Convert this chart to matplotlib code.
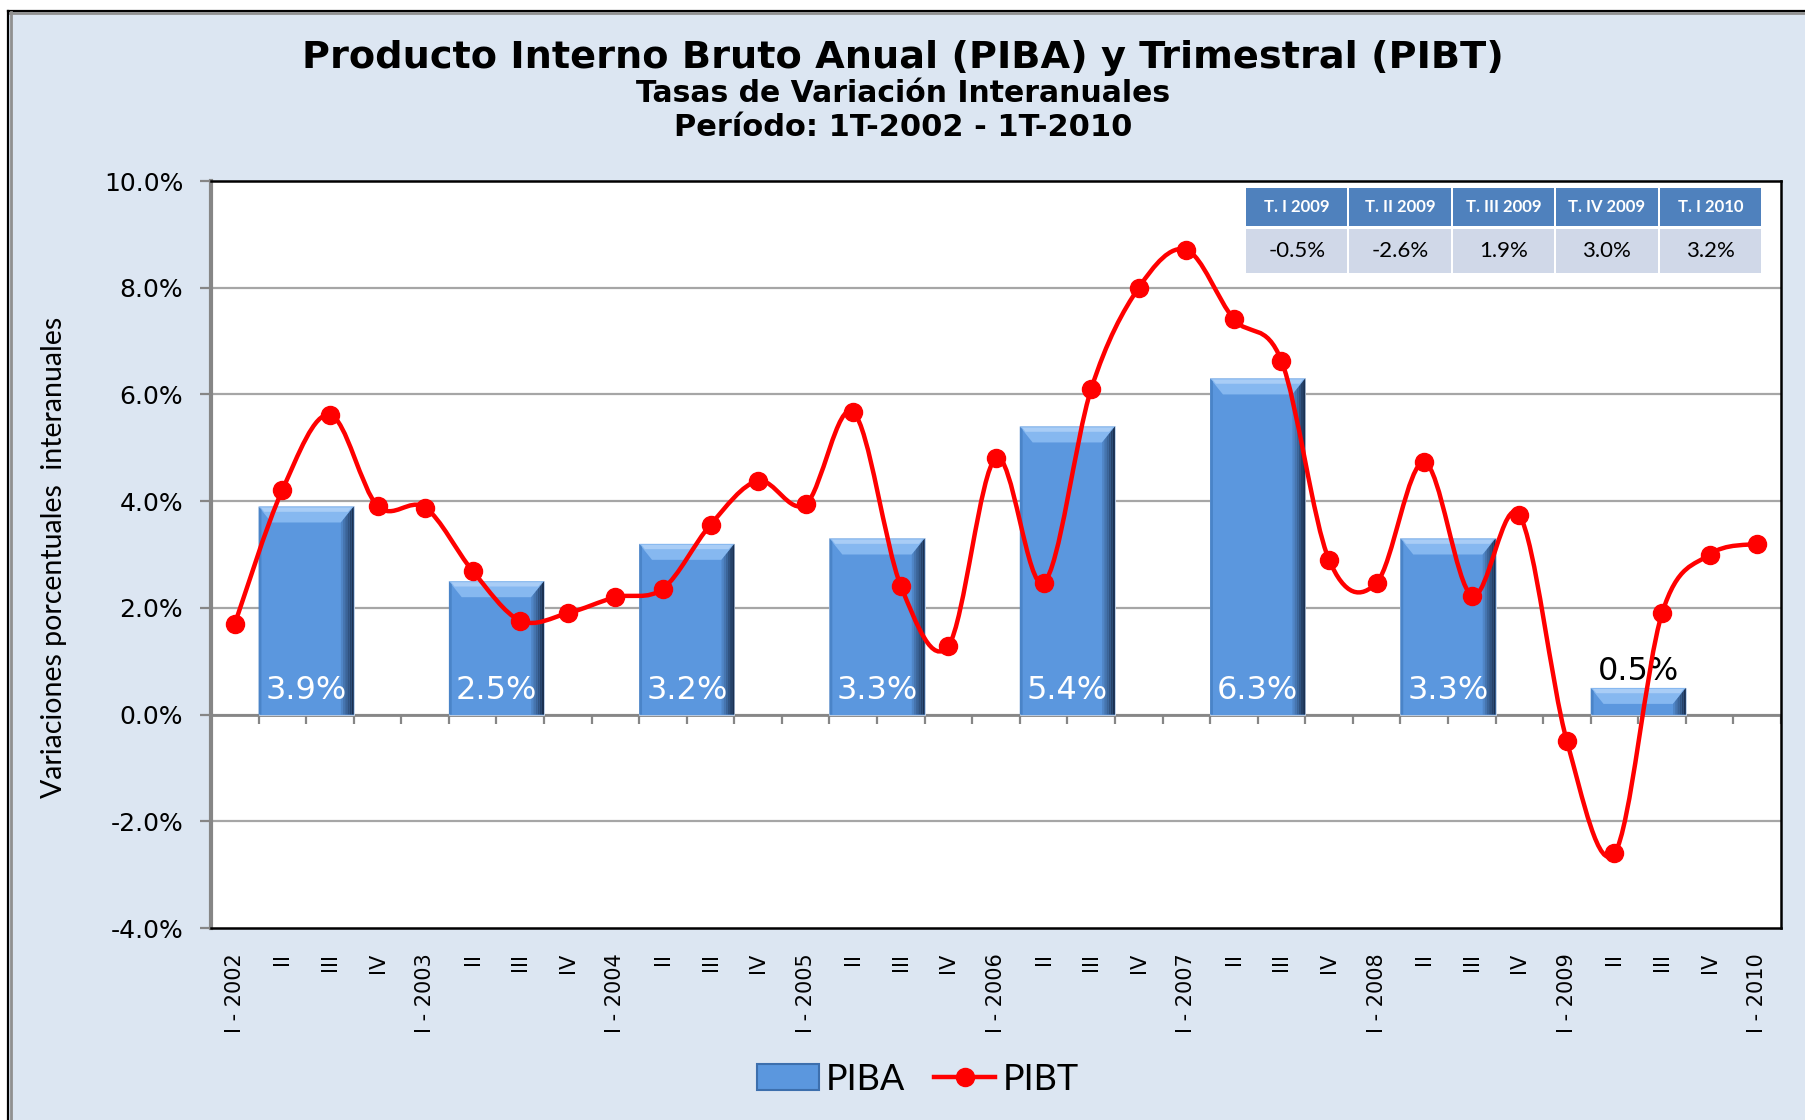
import numpy as np
import matplotlib
matplotlib.use("Agg")
import matplotlib.pyplot as plt
from matplotlib.patches import Rectangle, Polygon, PathPatch, Patch
from matplotlib.path import Path
from matplotlib.lines import Line2D
import matplotlib.colors as mcolors

# ---------------- data ----------------
quarter_labels = ["I - 2002", "II", "III", "IV",
                  "I - 2003", "II", "III", "IV",
                  "I - 2004", "II", "III", "IV",
                  "I - 2005", "II", "III", "IV",
                  "I - 2006", "II", "III", "IV",
                  "I - 2007", "II", "III", "IV",
                  "I - 2008", "II", "III", "IV",
                  "I - 2009", "II", "III", "IV",
                  "I - 2010"]
pibt = [1.70, 4.21, 5.62, 3.91,
        3.88, 2.69, 1.76, 1.90,
        2.20, 2.36, 3.56, 4.38,
        3.94, 5.67, 2.41, 1.29,
        4.81, 2.47, 6.10, 8.00,
        8.71, 7.41, 6.63, 2.90,
        2.47, 4.73, 2.23, 3.74,
        -0.5, -2.6, 1.9, 3.0,
        3.2]
piba_years = [2002, 2003, 2004, 2005, 2006, 2007, 2008, 2009]
piba = [3.9, 2.5, 3.2, 3.3, 5.4, 6.3, 3.3, 0.5]
table_headers = ["T. I 2009", "T. II 2009", "T. III 2009", "T. IV 2009", "T. I 2010"]
table_values = pibt[-5:]

title = "Producto Interno Bruto Anual (PIBA) y Trimestral (PIBT)"
subtitle1 = "Tasas de Variación Interanuales"
subtitle2 = "Período: 1T-2002 - 1T-2010"
ylabel = "Variaciones porcentuales  interanuales"

# ---------------- style ----------------
BG = "#DCE6F2"
BAR = "#5B97DE"
BAR_TOP = "#86B8F0"
BAR_DARK = "#1B3152"
GRID = "#A6A6A6"
AXGRAY = "#868686"
RED = "#FF0000"
W, H = 1806, 1120

fig = plt.figure(figsize=(W / 100, H / 100), dpi=100, facecolor="white")

# chart background and frame (outer border black + gray)
fig.add_artist(Rectangle((8 / W, 0), 1, 1 - 10.5 / H - 0, transform=fig.transFigure,
                         facecolor=BG, edgecolor="none", zorder=0))
fig.add_artist(Line2D([8 / W, 1], [1 - 10.5 / H] * 2, transform=fig.transFigure,
                      color="black", lw=1.6, zorder=1))
fig.add_artist(Line2D([10 / W, 1], [1 - 13 / H] * 2, transform=fig.transFigure,
                      color="#909090", lw=2.0, zorder=1))
fig.add_artist(Line2D([8 / W] * 2, [0, 1 - 10.5 / H], transform=fig.transFigure,
                      color="black", lw=1.6, zorder=1))
fig.add_artist(Line2D([11 / W] * 2, [0, 1 - 12 / H], transform=fig.transFigure,
                      color="#909090", lw=2.0, zorder=1))

ax = fig.add_axes([211 / W, 1 - 928 / H, (1781 - 211) / W, (928 - 181) / H])
ax.set_facecolor("white")
n = len(pibt)
x = np.arange(n)
ymin, ymax = -4, 10
ax.set_xlim(-0.5, n - 0.5)
ax.set_ylim(ymin, ymax)

# gridlines
yt = np.arange(ymin, ymax + 0.1, 2)
ax.set_yticks(yt)
ax.set_yticklabels([f"{v:.1f}%" for v in yt], fontsize=18, family="DejaVu Sans")
for v in yt[1:-1]:
    ax.axhline(v, color=GRID, lw=1.6, zorder=1)
ax.tick_params(axis="y", direction="out", length=8, width=1.6, color=AXGRAY, pad=12)

# spines
for s in ["top", "right", "bottom"]:
    ax.spines[s].set_color("black")
    ax.spines[s].set_linewidth(1.8)
ax.spines["left"].set_color(AXGRAY)
ax.spines["left"].set_linewidth(3)

# x tick labels at bottom
ax.set_xticks(x)
ax.set_xticklabels(quarter_labels, rotation=90, fontsize=15, va="top", ha="center")
ax.tick_params(axis="x", length=0, pad=18)

# zero axis with ticks at category boundaries
ax.axhline(0, color=AXGRAY, lw=2, zorder=2)
bounds = np.arange(-0.5, n, 1.0)
ax.vlines(bounds, -0.17, 0, color=AXGRAY, lw=1.6, zorder=2)

# ---------------- bars (annual) ----------------
bar_x = [(y - piba_years[0]) * 4 + 1.5 for y in piba_years]
bars = ax.bar(bar_x, piba, width=2.0, color=BAR, edgecolor="#C8D6EA", lw=0.6, zorder=3)
c_main = np.array(mcolors.to_rgb(BAR))
c_dark = np.array(mcolors.to_rgb(BAR_DARK))
for b in bars:
    bx, bw, bh = b.get_x(), b.get_width(), b.get_height()
    d = 0.27   # bevel width (categories)
    t = 0.30   # bevel height (%)
    # top lighter band
    ax.add_patch(Polygon([(bx, bh), (bx + bw, bh), (bx + bw - d, bh - t), (bx + d, bh - t)],
                         closed=True, facecolor=BAR_TOP, edgecolor="none", zorder=4))
    ax.add_patch(Polygon([(bx + 0.05, bh - 0.02), (bx + bw - 0.05, bh - 0.02),
                          (bx + bw - 0.12, bh - 0.1), (bx + 0.12, bh - 0.1)],
                         closed=True, facecolor="#A9CDF6", edgecolor="none", zorder=4))
    # right dark edge gradient
    ns = 6
    for k in range(ns):
        f = (k + 1) / ns
        col = c_main * (1 - f) + c_dark * f
        x0 = bx + bw - d + d * k / ns
        x1 = bx + bw - d + d * (k + 1) / ns
        ytop0 = bh - t + t * k / ns
        ytop1 = bh - t + t * (k + 1) / ns
        ax.add_patch(Polygon([(x0, 0), (x1, 0), (x1, ytop1), (x0, ytop0)], closed=True,
                             facecolor=col, edgecolor="none", zorder=4))
    # left slight shade
    ax.add_patch(Polygon([(bx, 0), (bx + 0.06, 0), (bx + 0.06, bh - 0.06), (bx, bh)],
                         closed=True, facecolor="#4A84C8", edgecolor="none", zorder=4))

for b, v in zip(bars, piba):
    cx = b.get_x() + b.get_width() / 2
    if v >= 1.5:
        ax.annotate(f"{v:.1f}%", xy=(cx, 0), xytext=(0, 17), textcoords="offset points",
                    ha="center", va="center", color="white", fontsize=23, zorder=6)
    else:
        ax.annotate(f"{v:.1f}%", xy=(cx, v), xytext=(0, 12), textcoords="offset points",
                    ha="center", va="center", color="black", fontsize=23, zorder=6)

# ---------------- smoothed line (quarterly) ----------------
def smooth_path(xs, ys):
    m = len(xs)
    verts = [(xs[0], ys[0])]
    codes = [Path.MOVETO]
    for i in range(m - 1):
        a = i - 1 if i > 0 else i
        c = i + 2 if i + 2 < m else i + 1
        c1 = (xs[i] + (xs[i + 1] - xs[a]) / 6, ys[i] + (ys[i + 1] - ys[a]) / 6)
        c2 = (xs[i + 1] - (xs[c] - xs[i]) / 6, ys[i + 1] - (ys[c] - ys[i]) / 6)
        verts += [c1, c2, (xs[i + 1], ys[i + 1])]
        codes += [Path.CURVE4] * 3
    return Path(verts, codes)

ax.add_patch(PathPatch(smooth_path(list(x), pibt), facecolor="none", edgecolor=RED,
                       lw=3.2, zorder=7, transform=ax.transData))
ax.plot(x, pibt, "o", color=RED, ms=13, zorder=8)

# ---------------- titles ----------------
fig.text(0.5, 1 - 58 / H, title, ha="center", va="center", fontsize=27.5, fontweight="bold")
fig.text(0.5, 1 - 94 / H, subtitle1, ha="center", va="center", fontsize=21.5, fontweight="bold")
fig.text(0.5, 1 - 128 / H, subtitle2, ha="center", va="center", fontsize=22, fontweight="bold")
fig.text(54 / W, 1 - 557 / H, ylabel, rotation=90, ha="center", va="center",
         fontsize=20.5, family="Lato")

# ---------------- table ----------------
tx0, tx1 = 1245, 1762
cw = (tx1 - tx0) / len(table_headers)
rows = [(188, 226, "#4F81BD"), (229, 273, "#D0D8E8")]
for j, (hd, val) in enumerate(zip(table_headers, table_values)):
    for r, (y0, y1, col) in enumerate(rows):
        fig.add_artist(Rectangle(((tx0 + j * cw + 1) / W, 1 - y1 / H), (cw - 2) / W, (y1 - y0) / H,
                                 transform=fig.transFigure, facecolor=col, edgecolor="none", zorder=10))
    cx = (tx0 + (j + 0.5) * cw) / W
    fig.text(cx, 1 - 207 / H, hd, ha="center", va="center", color="white", fontsize=12,
             fontweight="bold", family="Lato", zorder=11)
    fig.text(cx, 1 - 251 / H, f"{val:.1f}%", ha="center", va="center", color="black",
             fontsize=16, family="Lato", zorder=11)

# ---------------- legend ----------------
handles = [Patch(facecolor=BAR, edgecolor="#3D6FAD", lw=1.5),
           Line2D([0], [0], color=RED, lw=3.2, marker="o", ms=13)]
fig.legend(handles, ["PIBA", "PIBT"], loc="center", bbox_to_anchor=(918 / W, 1 - 1079 / H),
           ncol=2, frameon=False, prop={"family": "Lato", "size": 26},
           handlelength=1.7, handleheight=0.7, handletextpad=0.2, columnspacing=0.8)

fig.savefig("out.png", dpi=100, facecolor="white")
